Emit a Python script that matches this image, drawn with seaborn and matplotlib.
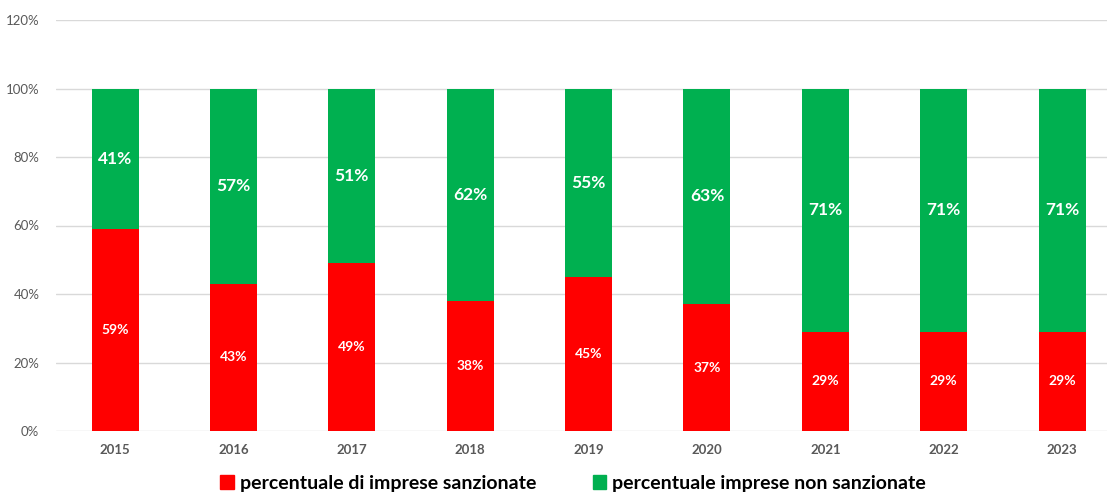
import matplotlib
matplotlib.use("Agg")
import matplotlib.pyplot as plt
import numpy as np
import pandas as pd
import seaborn as sns
from matplotlib.patches import Patch

anni = ["2015", "2016", "2017", "2018", "2019", "2020", "2021", "2022", "2023"]
sanzionate = [59, 43, 49, 38, 45, 37, 29, 29, 29]
non_sanzionate = [41, 57, 51, 62, 55, 63, 71, 71, 71]
lab_sanz = "percentuale di imprese sanzionate"
lab_non = "percentuale imprese non sanzionate"

RED, GREEN, GREY = "#ff0000", "#00b050", "#595959"

sns.set_theme(style="white")
plt.rcParams["font.family"] = ["Lato", "DejaVu Sans"]

df = pd.DataFrame({"anno": anni, "sanz": sanzionate, "non": non_sanzionate})
df["tot"] = df["sanz"] + df["non"]

fig = plt.figure(figsize=(11.07, 4.93), dpi=100)
ax = fig.add_axes([56 / 1107, 62 / 493, 1051 / 1107, 411 / 493])

# barre impilate: totale (verde) sotto, sanzionate (rosso) sopra
sns.barplot(data=df, x="anno", y="tot", color=GREEN, width=0.397, saturation=1,
            linewidth=0, ax=ax, zorder=2)
sns.barplot(data=df, x="anno", y="sanz", color=RED, width=0.397, saturation=1,
            linewidth=0, ax=ax, zorder=3)

for i, r in df.iterrows():
    ax.text(i, r["sanz"] / 2, f"{r['sanz']}%", ha="center", va="center",
            color="white", fontsize=10, fontweight="bold", zorder=4)
    ax.text(i, r["sanz"] + r["non"] / 2, f"{r['non']}%", ha="center", va="center",
            color="white", fontsize=12.5, fontweight="bold", zorder=4)

ax.set_xlim(-0.5, 8.38)
ax.set_ylim(0, 120)
ax.set_yticks(np.arange(0, 121, 20))
ax.set_yticklabels([f"{v}%" for v in range(0, 121, 20)], color=GREY, fontsize=9.5)
ax.set_xticks(range(len(anni)))
ax.set_xticklabels(anni, color=GREY, fontsize=9.5, fontweight="bold")
ax.tick_params(axis="both", length=0, pad=9)
ax.tick_params(axis="y", pad=12)
ax.grid(axis="y", color="#d9d9d9", lw=1, zorder=0)
ax.set_axisbelow(True)
ax.set_xlabel(""); ax.set_ylabel("")
for s in ax.spines.values():
    s.set_visible(False)

handles = [Patch(color=RED, label=lab_sanz), Patch(color=GREEN, label=lab_non)]
fig.legend(handles=handles, loc="center", bbox_to_anchor=(573 / 1107, 1 - 483 / 493), ncol=2,
           frameon=False, handlelength=0.7, handleheight=0.7, handletextpad=0.3,
           columnspacing=2.9, prop={"size": 14, "weight": "bold"}, labelcolor="black")

fig.savefig("out.png", dpi=100)
